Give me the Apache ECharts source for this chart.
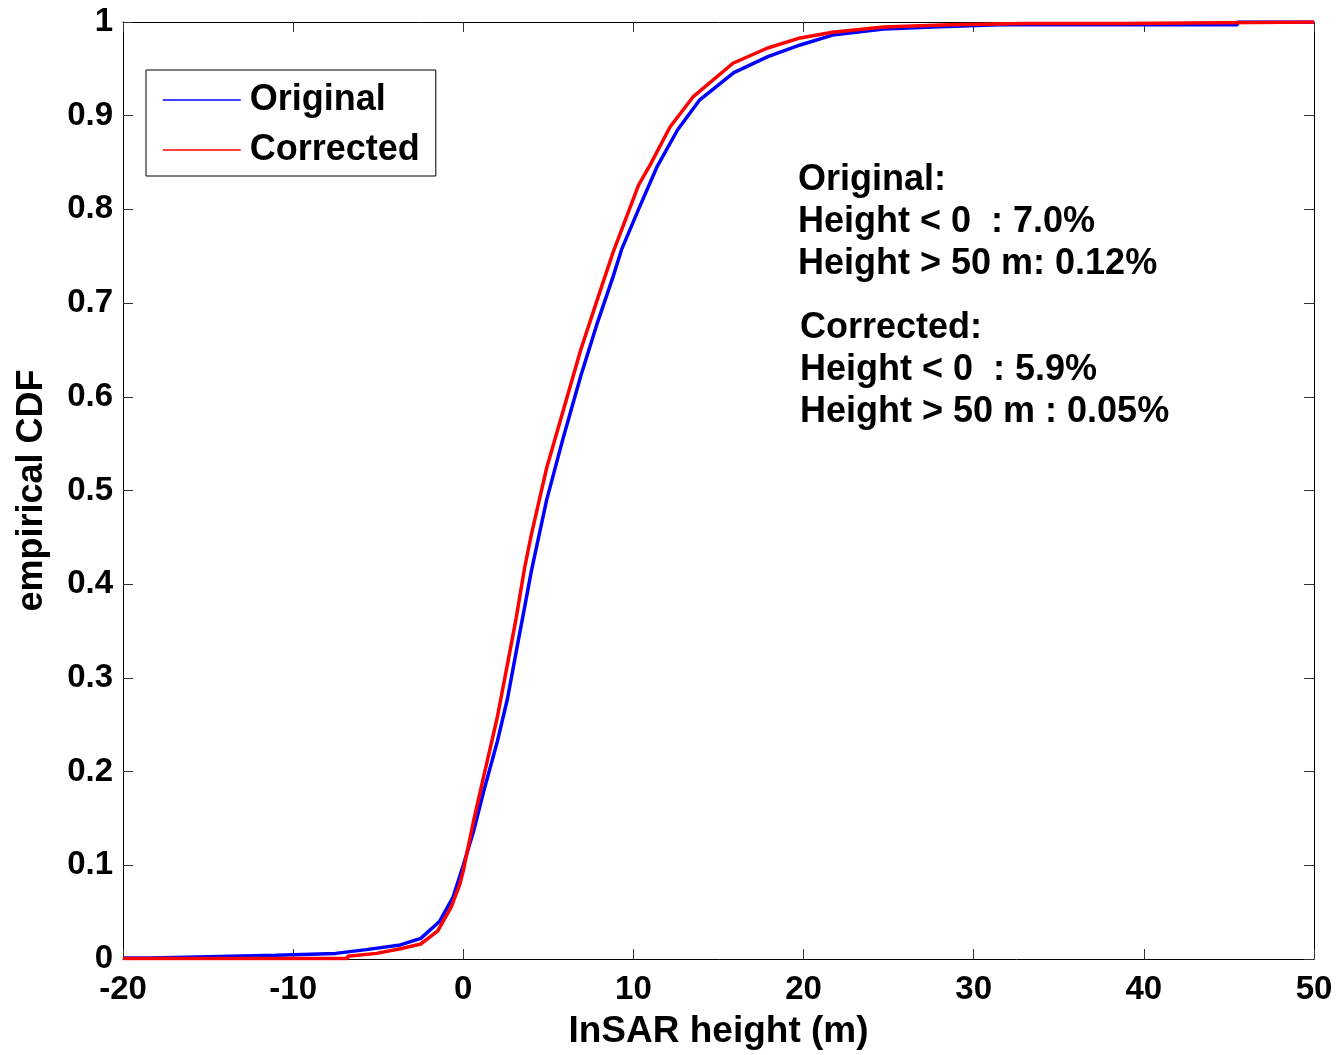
<!DOCTYPE html>
<html>
<head>
<meta charset="utf-8">
<script src="https://cdn.jsdelivr.net/npm/echarts@6/dist/echarts.min.js"></script>
<style>
  html, body { margin: 0; padding: 0; background: #fff; }
  #chart { width: 1341px; height: 1055px; }
</style>
</head>
<body>
<div id="chart"></div>
<script>
// empirical CDF of InSAR heights
const originalX = [-20, -18.3, -18.3, -11, -10.9, -7.5, -7.4, -5.7, -3.7, -2.5, -1.4, -0.6, 0, 0.6, 1.2, 2.0, 2.6, 3.1, 3.6, 4.0, 4.9, 5.9, 6.9, 7.9, 8.8, 9.3, 10.3, 11.4, 12.6, 13.9, 15.9, 17.9, 19.8, 21.7, 24.7, 27.6, 31.5, 45.5, 45.5, 50];
const originalY = [0.001, 0.001, 0.003, 0.004, 0.005, 0.006, 0.008, 0.010, 0.015, 0.022, 0.040, 0.066, 0.100, 0.136, 0.179, 0.232, 0.278, 0.327, 0.375, 0.414, 0.490, 0.558, 0.622, 0.680, 0.728, 0.757, 0.800, 0.846, 0.885, 0.917, 0.946, 0.963, 0.9755, 0.986, 0.9925, 0.9947, 0.997, 0.997, 1, 1];

const correctedX = [-20, -6.8, -6.8, -5.1, -3.7, -2.5, -1.5, -0.7, -0.2, 0, 0.6, 1.2, 2.0, 2.6, 3.1, 3.6, 4.0, 4.9, 5.9, 6.9, 7.9, 8.8, 9.3, 10.3, 11.0, 12.15, 13.5, 15.85, 17.85, 19.8, 21.7, 24.7, 28.6, 33, 38.9, 38.9, 50];
const correctedY = [0.0005, 0.0005, 0.003, 0.006, 0.011, 0.016, 0.030, 0.056, 0.080, 0.094, 0.147, 0.195, 0.258, 0.315, 0.363, 0.417, 0.453, 0.524, 0.587, 0.650, 0.705, 0.754, 0.778, 0.826, 0.848, 0.888, 0.920, 0.956, 0.972, 0.983, 0.989, 0.9947, 0.997, 0.9985, 0.9985, 1, 1];

const statsOriginal = ["Original:", "Height < 0  : 7.0%", "Height > 50 m: 0.12%"];
const statsCorrected = ["Corrected:", "Height < 0  : 5.9%", "Height > 50 m : 0.05%"];

const FONT = "'Liberation Sans', Arial, sans-serif";
const pair = (xs, ys) => xs.map((x, i) => [x, ys[i]]);

const chart = echarts.init(document.getElementById("chart"), null, { renderer: "canvas" });

const boxAxis = {
  axisLine: { show: true, onZero: false, lineStyle: { color: "#000", width: 1 } },
  axisTick: { show: true, inside: true, length: 10, lineStyle: { color: "#333", width: 1 } },
  splitLine: { show: false },
};

const textLines = (lines, left, top) => lines.map((t, i) => ({
  type: "text",
  left: left,
  top: top + i * 42,
  style: { text: t, font: "bold 36px " + FONT, fill: "#000" },
}));

chart.setOption({
  backgroundColor: "#fff",
  animation: false,
  grid: { left: 123, right: 27, top: 22, bottom: 94, containLabel: false },
  legend: {
    orient: "vertical",
    left: 146,
    top: 70,
    padding: [12, 16, 8, 16],
    itemGap: 14,
    itemWidth: 78,
    itemHeight: 2,
    borderColor: "#000",
    borderWidth: 1,
    backgroundColor: "#fff",
    lineStyle: { width: 1.5 },
    itemStyle: { opacity: 0 },
    textStyle: { fontFamily: FONT, fontWeight: "bold", fontSize: 36, color: "#000", padding: [0, 0, 0, 4] },
    data: ["Original", "Corrected"],
  },
  xAxis: [
    Object.assign({
      type: "value", min: -20, max: 50, interval: 10,
      name: "InSAR height (m)", nameLocation: "middle", nameGap: 54,
      nameTextStyle: { fontFamily: FONT, fontWeight: "bold", fontSize: 37, color: "#000" },
      axisLabel: { margin: 14, fontFamily: FONT, fontWeight: "bold", fontSize: 33, color: "#000" },
    }, boxAxis),
    Object.assign({
      type: "value", min: -20, max: 50, interval: 10, position: "top",
      axisLabel: { show: false },
    }, boxAxis),
  ],
  yAxis: [
    Object.assign({
      type: "value", min: 0, max: 1, interval: 0.1,
      name: "empirical CDF", nameLocation: "middle", nameGap: 73,
      nameTextStyle: { fontFamily: FONT, fontWeight: "bold", fontSize: 36, color: "#000" },
      axisLabel: { margin: 10, fontFamily: FONT, fontWeight: "bold", fontSize: 33, color: "#000" },
    }, boxAxis),
    Object.assign({
      type: "value", min: 0, max: 1, interval: 0.1, position: "right",
      axisLabel: { show: false },
    }, boxAxis),
  ],
  series: [
    {
      name: "Original", type: "line", symbol: "none",
      data: pair(originalX, originalY),
      lineStyle: { color: "#0000ff", width: 3.5 },
      itemStyle: { color: "#0000ff" },
    },
    {
      name: "Corrected", type: "line", symbol: "none",
      data: pair(correctedX, correctedY),
      lineStyle: { color: "#ff0000", width: 3.5 },
      itemStyle: { color: "#ff0000" },
    },
  ],
  graphic: textLines(statsOriginal, 798, 162).concat(textLines(statsCorrected, 800, 310)),
});
</script>
</body>
</html>
